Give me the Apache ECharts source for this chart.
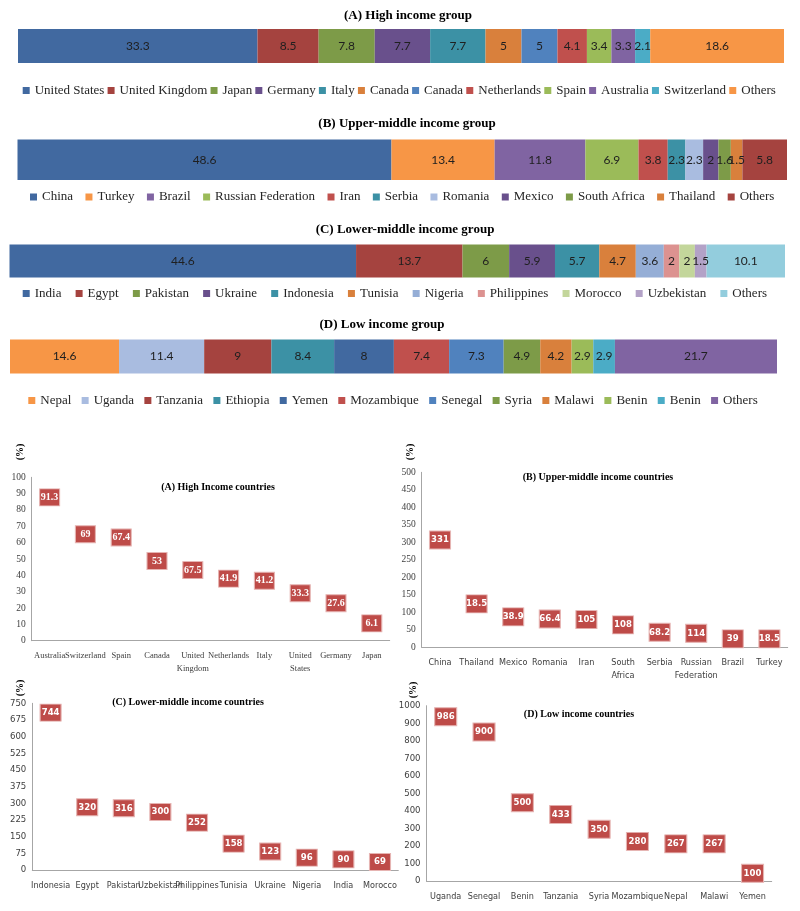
<!DOCTYPE html>
<html>
<head>
<meta charset="utf-8">
<script src="https://cdn.jsdelivr.net/npm/echarts@6/dist/echarts.min.js"></script>
<style>
  html, body { margin: 0; padding: 0; background: #fff; }
  #main { width: 800px; height: 911px; }
</style>
</head>
<body>
<div id="main"></div>
<script>
// --- share of each country within its income group (stacked bars) ---
const namesA = ['United States', 'United Kingdom', 'Japan', 'Germany', 'Italy', 'Canada', 'Canada', 'Netherlands', 'Spain', 'Australia', 'Switzerland', 'Others'];
const valuesA = [33.3, 8.5, 7.8, 7.7, 7.7, 5, 5, 4.1, 3.4, 3.3, 2.1, 18.6];
const namesB = ['China', 'Turkey', 'Brazil', 'Russian Federation', 'Iran', 'Serbia', 'Romania', 'Mexico', 'South Africa', 'Thailand', 'Others'];
const valuesB = [48.6, 13.4, 11.8, 6.9, 3.8, 2.3, 2.3, 2, 1.6, 1.5, 5.8];
const namesC = ['India', 'Egypt', 'Pakistan', 'Ukraine', 'Indonesia', 'Tunisia', 'Nigeria', 'Philippines', 'Morocco', 'Uzbekistan', 'Others'];
const valuesC = [44.6, 13.7, 6, 5.9, 5.7, 4.7, 3.6, 2, 2, 1.5, 10.1];
const namesD = ['Nepal', 'Uganda', 'Tanzania', 'Ethiopia', 'Yemen', 'Mozambique', 'Senegal', 'Syria', 'Malawi', 'Benin', 'Benin', 'Others'];
const valuesD = [14.6, 11.4, 9, 8.4, 8, 7.4, 7.3, 4.9, 4.2, 2.9, 2.9, 21.7];

const colorsA = ['#4169A0', '#A5433F', '#7D9B48', '#69508C', '#3C91A5', '#D9803C', '#5082BE', '#C0504D', '#9BBB59', '#8064A2', '#4BACC6', '#F79646'];
const colorsB = ['#4169A0', '#F79646', '#8064A2', '#9BBB59', '#C0504D', '#3C91A5', '#A9BCE0', '#69508C', '#7D9B48', '#D9803C', '#A5433F'];
const colorsC = ['#4169A0', '#A5433F', '#7D9B48', '#69508C', '#3C91A5', '#D9803C', '#95AED6', '#DC9290', '#C3D69B', '#B3A2C7', '#93CDDD'];
const colorsD = ['#F79646', '#A9BCE0', '#A5433F', '#3C91A5', '#4169A0', '#C0504D', '#5082BE', '#7D9B48', '#D9803C', '#9BBB59', '#4BACC6', '#8064A2'];

// --- growth by country (boxes) ---
const catsA = ['Australia', 'Switzerland', 'Spain', 'Canada', 'United\nKingdom', 'Netherlands', 'Italy', 'United\nStates', 'Germany', 'Japan'];
const posA = [87.7, 65.1, 63.2, 48.8, 43.2, 38, 36.7, 29, 22.9, 10.6];
const labelsA = ['91.3', '69', '67.4', '53', '67.5', '41.9', '41.2', '33.3', '27.6', '6.1'];

const catsB = ['China', 'Thailand', 'Mexico', 'Romania', 'Iran', 'South\nAfrica', 'Serbia', 'Russian\nFederation', 'Brazil', 'Turkey'];
const posB = [306.6, 124, 87, 81, 79, 64, 43, 40, 24, 24];
const labelsB = ['331', '18.5', '38.9', '66.4', '105', '108', '68.2', '114', '39', '18.5'];

const catsC = ['Indonesia', 'Egypt', 'Pakistan', 'Uzbekistan', 'Philippines', 'Tunisia', 'Ukraine', 'Nigeria', 'India', 'Morocco'];
const posC = [708, 282, 278, 261, 213, 118.5, 83, 55.6, 48, 36];
const labelsC = ['744', '320', '316', '300', '252', '158', '123', '96', '90', '69'];

const catsD = ['Uganda', 'Senegal', 'Benin', 'Tanzania', 'Syria', 'Mozambique', 'Nepal', 'Malawi', 'Yemen'];
const posD = [937, 850, 446.6, 380, 295, 226, 212, 212, 44];
const labelsD = ['986', '900', '500', '433', '350', '280', '267', '267', '100'];

const SERIF = 'Liberation Serif';
const SANS = "'Liberation Sans Narrow', 'DejaVu Sans Condensed', Lato, sans-serif";

const sum = arr => arr.reduce((a, b) => a + b, 0);

function stackSeries(key, names, values, colors, idx) {
  return names.map((n, i) => ({
    type: 'bar',
    name: key + '|' + i + '|' + n,
    stack: key,
    xAxisIndex: idx,
    yAxisIndex: idx,
    data: [values[i]],
    barWidth: '100%',
    itemStyle: { color: colors[i] },
    label: { show: true, position: 'inside', color: '#1f1f1f', fontFamily: 'Lato', fontSize: 12 }
  }));
}

function boxSeries(idx, pos, labels, size, font, fontSize) {
  return {
    type: 'scatter',
    xAxisIndex: idx,
    yAxisIndex: idx,
    data: pos,
    symbol: 'rect',
    symbolSize: size,
    clip: false,
    itemStyle: { color: '#BE4B48', opacity: 1, borderColor: '#E6B4B2', borderWidth: 1 },
    label: {
      show: true, position: 'inside', color: '#fff', fontWeight: 'bold',
      fontFamily: font, fontSize: fontSize,
      formatter: p => labels[p.dataIndex]
    }
  };
}

function legendFor(key, names, left, top, gap) {
  return {
    data: names.map((n, i) => key + '|' + i + '|' + n),
    left: left, top: top, itemGap: gap,
    icon: 'rect', itemWidth: 7, itemHeight: 7, padding: 0,
    selectedMode: false,
    formatter: n => n.split('|')[2],
    textStyle: { fontFamily: SERIF, fontSize: 13, color: '#262626' }
  };
}

function catAxis(idx, cats, font, fontSize) {
  return {
    type: 'category', gridIndex: idx, data: cats,
    axisLine: { lineStyle: { color: '#A6A6A6' } },
    axisTick: { show: false },
    axisLabel: { interval: 0, margin: 9, fontFamily: font, fontSize: fontSize, color: '#404040', lineHeight: 13 }
  };
}

function valAxis(idx, max, interval, font, fontSize) {
  return {
    type: 'value', gridIndex: idx, min: 0, max: max, interval: interval,
    axisLine: { show: true, lineStyle: { color: '#A6A6A6' } },
    axisTick: { show: false },
    splitLine: { show: false },
    axisLabel: { margin: 6, fontFamily: font, fontSize: fontSize, color: '#404040', formatter: v => String(v) }
  };
}

function heading(text, x, y, size) {
  return {
    type: 'text', x: x, y: y,
    style: { text: text, fill: '#000', font: 'bold ' + size + 'px ' + SERIF, textAlign: 'center', textVerticalAlign: 'middle' }
  };
}

function pct(x, y) {
  return {
    type: 'text', x: x, y: y, rotation: Math.PI / 2,
    style: { text: '(%)', fill: '#000', font: 'bold 10px ' + SERIF, textAlign: 'center', textVerticalAlign: 'middle' }
  };
}

const chart = echarts.init(document.getElementById('main'));

chart.setOption({
  animation: false,
  graphic: [
    heading('(A) High income group', 408, 16, 13),
    heading('(B) Upper-middle income group', 407, 124, 13),
    heading('(C) Lower-middle income group', 405, 230, 13),
    heading('(D) Low income group', 382, 325, 13),
    heading('(A) High Income countries', 218, 487, 10),
    heading('(B) Upper-middle income countries', 598, 477, 10),
    heading('(C) Lower-middle income countries', 188, 702, 10),
    heading('(D) Low income countries', 579, 714, 10),
    pct(20, 452), pct(410, 452), pct(20, 688), pct(413, 690)
  ],
  legend: [
    legendFor('A', namesA, 22.7, 84, 3.2),
    legendFor('B', namesB, 30, 190.5, 12.4),
    legendFor('C', namesC, 22.7, 287, 14.2),
    legendFor('D', namesD, 28.3, 394, 10.3)
  ],
  grid: [
    { left: 18, width: 766, top: 29, height: 34 },
    { left: 17.5, width: 769.5, top: 139.5, height: 40.5 },
    { left: 9.5, width: 775.5, top: 244.5, height: 33 },
    { left: 10, width: 767, top: 339.5, height: 34 },
    { left: 31.7, width: 358, top: 477.3, height: 163.4 },
    { left: 421.7, width: 366, top: 472.3, height: 175 },
    { left: 32.3, width: 366, top: 703.3, height: 166.7 },
    { left: 426.5, width: 345.2, top: 705.7, height: 175.3 }
  ],
  xAxis: [
    { type: 'value', gridIndex: 0, min: 0, max: sum(valuesA), show: false },
    { type: 'value', gridIndex: 1, min: 0, max: sum(valuesB), show: false },
    { type: 'value', gridIndex: 2, min: 0, max: sum(valuesC), show: false },
    { type: 'value', gridIndex: 3, min: 0, max: sum(valuesD), show: false },
    catAxis(4, catsA, SERIF, 8.5),
    catAxis(5, catsB, SANS, 9),
    catAxis(6, catsC, SANS, 9),
    catAxis(7, catsD, SANS, 9)
  ],
  yAxis: [
    { type: 'category', gridIndex: 0, data: [''], show: false },
    { type: 'category', gridIndex: 1, data: [''], show: false },
    { type: 'category', gridIndex: 2, data: [''], show: false },
    { type: 'category', gridIndex: 3, data: [''], show: false },
    valAxis(4, 100, 10, SERIF, 9.5),
    valAxis(5, 500, 50, SERIF, 9.5),
    valAxis(6, 750, 75, SANS, 9.5),
    valAxis(7, 1000, 100, SANS, 9.5)
  ],
  series: [
    ...stackSeries('A', namesA, valuesA, colorsA, 0),
    ...stackSeries('B', namesB, valuesB, colorsB, 1),
    ...stackSeries('C', namesC, valuesC, colorsC, 2),
    ...stackSeries('D', namesD, valuesD, colorsD, 3),
    boxSeries(4, posA, labelsA, [20, 17], SERIF, 10),
    boxSeries(5, posB, labelsB, [21, 18], SANS, 9.5),
    boxSeries(6, posC, labelsC, [21, 17], SANS, 9.5),
    boxSeries(7, posD, labelsD, [22, 18], SANS, 9.5)
  ]
});
</script>
</body>
</html>
